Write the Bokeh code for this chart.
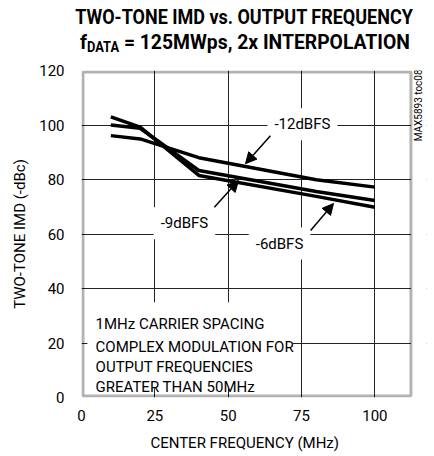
import math
from bokeh.plotting import figure
from bokeh.layouts import column
from bokeh.models import Range1d, FixedTicker, Label, Arrow, NormalHead, BoxAnnotation, Div
from bokeh.embed import file_html
from bokeh.resources import INLINE

# ---- data ----
freq = [10, 20, 40, 80, 100]
imd_6dbfs = [103.0, 99.2, 81.5, 73.8, 69.8]
imd_9dbfs = [100.0, 98.8, 83.3, 75.6, 72.3]
imd_12dbfs = [96.1, 94.9, 88.0, 79.9, 77.2]
x_ticks = [0, 25, 50, 75, 100]
y_ticks = [0, 20, 40, 60, 80, 100, 120]
note_lines = ["1MHz CARRIER SPACING", "COMPLEX MODULATION FOR",
              "OUTPUT FREQUENCIES", "GREATER THAN 50MHz"]
title_line1 = "TWO-TONE IMD vs. OUTPUT FREQUENCY"
title_line2_rest = " = 125MWps, 2x INTERPOLATION"

FONT = "Roboto"
X_MAX = 112.3          # right edge of the drawn chart box

# ---- title (HTML, for the subscript and a condensed look) ----
title_html = (
    '<div style="position:relative;width:434px;height:62px;font-family:Roboto,sans-serif;'
    'font-weight:700;color:#000;">'
    '<div style="position:absolute;left:244px;top:7px;white-space:nowrap;font-size:21px;'
    'line-height:21px;transform:translateX(-50%) scaleX(0.856);">' + title_line1 + '</div>'
    '<div style="position:absolute;left:245px;top:32px;white-space:nowrap;font-size:21px;'
    'line-height:21px;transform:translateX(-50%) scaleX(0.92);">f<span style="font-size:14px;'
    'position:relative;top:3px;">DATA</span>' + title_line2_rest + '</div>'
    '</div>'
)
title_div = Div(text=title_html, width=434, height=62, margin=0)

p = figure(width=434, height=394, output_backend="svg", toolbar_location=None,
           x_range=Range1d(0, 117.6), y_range=Range1d(0, 120),
           min_border_left=81, min_border_right=8, min_border_top=8, min_border_bottom=59)
p.outline_line_color = None
p.background_fill_color = "white"

for ax in (p.xaxis[0], p.yaxis[0]):
    ax.axis_line_color = None
    ax.major_tick_line_color = None
    ax.minor_tick_line_color = None
    ax.major_tick_out = 0
    ax.major_tick_in = 0
    ax.major_label_text_font = FONT
    ax.major_label_text_font_size = "15px"
    ax.major_label_text_color = "black"
    ax.axis_label_text_font = FONT
    ax.axis_label_text_font_size = "15px"
    ax.axis_label_text_font_style = "normal"
    ax.axis_label_text_color = "black"

p.xaxis.ticker = FixedTicker(ticks=x_ticks)
p.yaxis.ticker = FixedTicker(ticks=y_ticks)
p.xaxis.axis_label = "CENTER FREQUENCY (MHz)" + "\u00a0" * 5
p.yaxis.axis_label = "TWO-TONE IMD (-dBc)"
p.xaxis.major_label_standoff = 12
p.xaxis.axis_label_standoff = 10
p.yaxis.major_label_standoff = 17
p.yaxis.axis_label_standoff = 7

p.xgrid.ticker = FixedTicker(ticks=x_ticks[1:])
p.ygrid.ticker = FixedTicker(ticks=y_ticks[1:-1])
for g in (p.xgrid[0], p.ygrid[0]):
    g.grid_line_color = "#222222"
    g.grid_line_width = 1

# blank strip right of the chart box (holds the figure code)
p.add_layout(BoxAnnotation(left=X_MAX, fill_color="white", fill_alpha=1.0, line_color=None))
# chart box border
p.add_layout(BoxAnnotation(left=0.5, right=X_MAX, bottom=0.55, top=119.45,
                           fill_color=None, line_color="black", line_width=3))
# white box behind the note text (breaks the grid)
p.add_layout(BoxAnnotation(left=2.0, right=72.0, bottom=3.3, top=35.0,
                           fill_color="white", fill_alpha=1.0, line_color=None))

for ys in (imd_6dbfs, imd_9dbfs, imd_12dbfs):
    p.line(freq, ys, line_color="black", line_width=3.5, line_join="round")

def curve_label(x, y, t):
    p.add_layout(Label(x=x, y=y, text=t, text_align="center", text_baseline="middle",
                       text_font=FONT, text_font_size="15px", text_color="black",
                       background_fill_color="white", background_fill_alpha=1.0,
                       padding=7))

curve_label(75.3, 100.3, "-12dBFS")
curve_label(35.1, 63.9, "-9dBFS")
curve_label(67.5, 56.5, "-6dBFS")

def arrow(x0, y0, x1, y1):
    p.add_layout(Arrow(end=NormalHead(size=11, fill_color="black", line_color="black"),
                       x_start=x0, y_start=y0, x_end=x1, y_end=y1,
                       line_color="black", line_width=1.5))

arrow(64.4, 96.1, 55.9, 85.8)
arrow(45.3, 69.8, 53.5, 79.6)
arrow(78.1, 61.3, 85.9, 71.2)

for t, yb in zip(note_lines, [26.8, 18.5, 11.1, 3.8]):
    p.add_layout(Label(x=4.8, y=yb, text=t, text_align="left", text_baseline="alphabetic",
                       text_font=FONT, text_font_size="15px", text_color="black"))

p.add_layout(Label(x=114.9, y=107.2, text="MAX5893 toc08", angle=math.pi / 2,
                   text_align="center", text_baseline="middle",
                   text_font=FONT, text_font_size="10px", text_color="black"))

layout = column(title_div, p, spacing=0)
open("out.html", "w").write(file_html(layout, INLINE))
